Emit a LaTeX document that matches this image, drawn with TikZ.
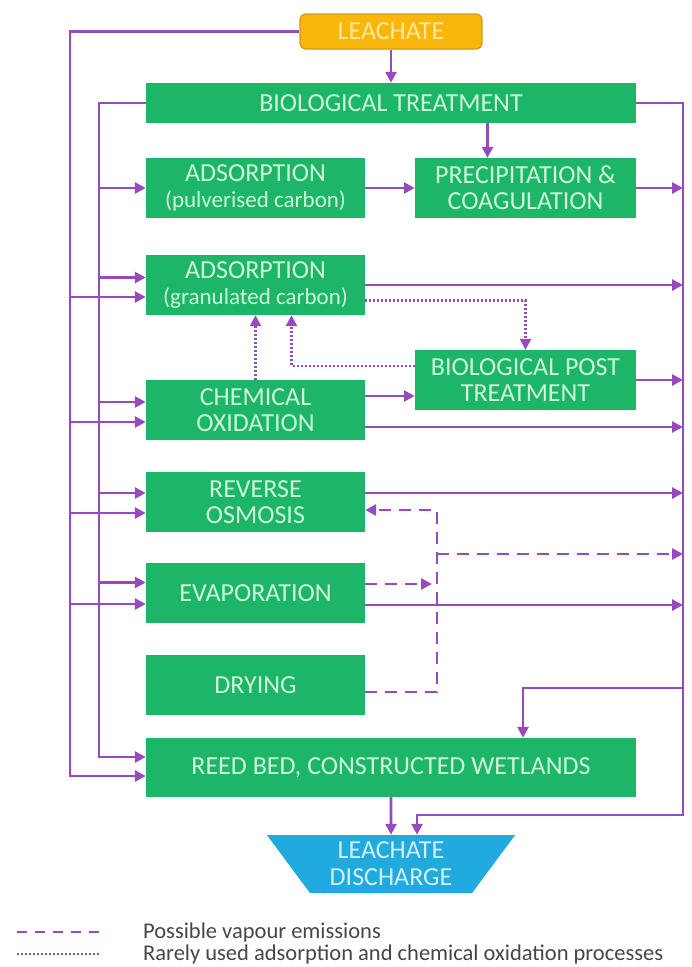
\documentclass[tikz,border=0pt]{standalone}
\usepackage{fontspec}
\setmainfont{Carlito}
\usetikzlibrary{arrows.meta,shapes.geometric}
\definecolor{procgreen}{RGB}{28,182,102}
\definecolor{proctext}{RGB}{205,246,218}
\definecolor{flowpurple}{RGB}{150,74,190}
\definecolor{leachfill}{RGB}{250,182,10}
\definecolor{leachedge}{RGB}{214,150,30}
\definecolor{leachtext}{RGB}{255,232,160}
\definecolor{dischfill}{RGB}{32,170,222}
\definecolor{dischtext}{RGB}{210,240,250}
\definecolor{legtext}{RGB}{70,70,70}
\newcommand{\subfont}{\fontsize{23}{26}\selectfont}

\begin{document}
\begin{tikzpicture}[x=1pt,y=-1pt,
	proc/.style={fill=procgreen,text=proctext,minimum width=219pt,minimum height=60pt,inner sep=0pt,align=center,font=\fontsize{26}{26}\selectfont},
	lead/.style={rounded corners=6pt,fill=leachfill,draw=leachedge,line width=1.2pt,text=leachtext,minimum width=182pt,minimum height=35pt,inner sep=0pt,font=\fontsize{26}{26}\selectfont},
	disch/.style={trapezium,trapezium left angle=126.5,trapezium right angle=126.5,trapezium stretches=true,fill=dischfill,text=dischtext,minimum width=249pt,minimum height=58pt,inner sep=0pt,align=center,font=\fontsize{26}{27}\selectfont},
	flow/.style={draw=flowpurple,line width=2.6pt,-{Triangle[length=11pt,width=11pt]}},
	vapour/.style={flow,dash pattern=on 12pt off 8pt},
	rare/.style={flow,line width=2.4pt,dash pattern=on 2pt off 2pt},
	legend/.style={anchor=west,text=legtext,inner sep=0pt,font=\fontsize{22.5}{26}\selectfont}]

	\useasboundingbox (0,0) rectangle (692,967);

	% boxes
	\node[lead] (leach) at (391,31.5) {LEACHATE};
	\node[proc,minimum width=490pt,minimum height=40pt] (bio) at (391,103) {BIOLOGICAL TREATMENT};
	\node[proc] (adsp) at (255.5,188) {ADSORPTION\\{\subfont (pulverised carbon)}};
	\node[proc,minimum width=221pt] (prec) at (525.5,188) {PRECIPITATION \&\\COAGULATION};
	\node[proc] (adsg) at (255.5,285) {ADSORPTION\\{\subfont (granulated carbon)}};
	\node[proc,minimum width=221pt] (bpt) at (525.5,380) {BIOLOGICAL POST\\TREATMENT};
	\node[proc] (chem) at (255.5,410) {CHEMICAL\\OXIDATION};
	\node[proc] (ro) at (255.5,502) {REVERSE\\OSMOSIS};
	\node[proc] (evap) at (255.5,593) {EVAPORATION};
	\node[proc] (dry) at (255.5,685) {DRYING};
	\node[proc,minimum width=490pt,minimum height=59pt] (reed) at (391,767.5) {REED BED, CONSTRUCTED WETLANDS};
	\node[disch] (disc) at (391,864) {LEACHATE\\DISCHARGE};

	% trunk lines
	\coordinate (outer) at (70,0);
	\coordinate (inner) at (99,0);
	\coordinate (rline) at (683,0);
	\coordinate (vjoin) at (437,0);
	\coordinate (vapout) at (683,554);
	\coordinate (wetin) at (683,688);
	\coordinate (rbot) at (683,815);

	% main flow
	\draw[flow] (leach.south) -- (bio.north);
	\draw[flow] ([xshift=-38pt]prec.north |- bio.south) -- ([xshift=-38pt]prec.north);
	\draw[flow] (adsp.east) -- (prec.west);
	\draw[flow] ([yshift=14pt]chem.east) -- ([yshift=14pt]chem.east -| bpt.west);
	\draw[flow] (reed.south) -- (disc.north);

	% outer feed from leachate
	\draw[flow] (leach.west) -| ([yshift=-8.5pt]reed.west -| outer) -- ([yshift=-8.5pt]reed.west);
	\draw[flow] ([yshift=-12pt]adsg.west -| outer) -- ([yshift=-12pt]adsg.west);
	\draw[flow] ([yshift=-12pt]chem.west -| outer) -- ([yshift=-12pt]chem.west);
	\draw[flow] ([yshift=-11pt]ro.west -| outer) -- ([yshift=-11pt]ro.west);
	\draw[flow] ([yshift=-11pt]evap.west -| outer) -- ([yshift=-11pt]evap.west);

	% inner feed from biological treatment
	\draw[flow] (bio.west) -| ([yshift=10.5pt]reed.west -| inner) -- ([yshift=10.5pt]reed.west);
	\draw[flow] (adsp.west -| inner) -- (adsp.west);
	\draw[flow] ([yshift=7.5pt]adsg.west -| inner) -- ([yshift=7.5pt]adsg.west);
	\draw[flow] ([yshift=8pt]chem.west -| inner) -- ([yshift=8pt]chem.west);
	\draw[flow] ([yshift=9pt]ro.west -| inner) -- ([yshift=9pt]ro.west);
	\draw[flow] ([yshift=10.5pt]evap.west -| inner) -- ([yshift=10.5pt]evap.west);

	% right collector
	\draw[flow] (bio.east) -| (rbot) -| ([xshift=26pt]disc.north);
	\draw[flow] (wetin) -| ([xshift=132pt]reed.north);
	\draw[flow] (prec.east) -- (prec.east -| rline);
	\draw[flow] (adsg.east) -- (adsg.east -| rline);
	\draw[flow] (bpt.east) -- (bpt.east -| rline);
	\draw[flow] ([yshift=-17pt]chem.east) -- ([yshift=-17pt]chem.east -| rline);
	\draw[flow] ([yshift=9pt]ro.east) -- ([yshift=9pt]ro.east -| rline);
	\draw[flow] ([yshift=-12pt]evap.east) -- ([yshift=-12pt]evap.east -| rline);

	% vapour emissions
	\draw[vapour] ([yshift=-7pt]dry.east) -| ([yshift=-8pt]ro.east -| vjoin) -- ([yshift=-8pt]ro.east);
	\draw[vapour] ([yshift=9pt]evap.east) -- ([yshift=9pt,xshift=-5pt]evap.east -| vjoin);
	\draw[vapour] (vapout -| vjoin) -- (vapout);

	% rarely used
	\draw[rare] ([yshift=-15.5pt]adsg.east) -| (bpt.north);
	\draw[rare] (chem.north) -- (adsg.south);
	\draw[rare] ([yshift=14pt]bpt.west) -| ([xshift=36pt]adsg.south);

	% legend
	\draw[vapour,-,line width=2.2pt,dash pattern=on 10pt off 8pt] (17,932) -- (99,932);
	\draw[rare,-,line width=2pt] (17,954) -- (99,954);
	\node[legend] (legv) at (143,932) {Possible vapour emissions};
	\node[legend] (legr) at (143,954) {Rarely used adsorption and chemical oxidation processes};

\end{tikzpicture}
\end{document}
